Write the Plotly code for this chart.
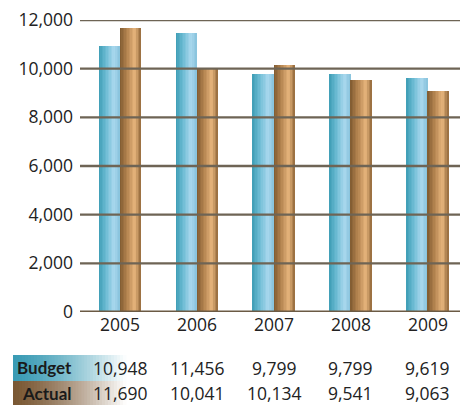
import plotly.graph_objects as go

# ---- data ----
years = ["2005", "2006", "2007", "2008", "2009"]
budget = [10948, 11456, 9799, 9799, 9619]
actual = [11690, 10041, 10134, 9541, 9063]
y_ticks = [0, 2000, 4000, 6000, 8000, 10000, 12000]

FONT = "Open Sans"
TXT = "#222222"

# plot area geometry (pixels)
W, H = 460, 405
L, R, T, B = 80, 0, 20, 93
PW, PH = W - L - R, H - T - B


def hex2rgb(h):
    h = h.lstrip("#")
    return tuple(int(h[i:i + 2], 16) for i in (0, 2, 4))


def ramp(stops, t):
    for (t0, c0), (t1, c1) in zip(stops, stops[1:]):
        if t0 <= t <= t1:
            f = (t - t0) / (t1 - t0) if t1 > t0 else 0
            a, b = hex2rgb(c0), hex2rgb(c1)
            return "rgb(%d,%d,%d)" % tuple(round(a[k] + (b[k] - a[k]) * f) for k in range(3))
    return stops[-1][1]


budget_stops = [(0, "#3d9db5"), (0.35, "#6dbcd4"), (0.72, "#aad8ee"), (1, "#86c2dc")]
actual_stops = [(0, "#7f5a30"), (0.35, "#b48450"), (0.72, "#e8b67d"), (1, "#92683b")]

fig = go.Figure()

# cylinder-shaded bars built from narrow vertical strips
BW = 0.273
N = 14
for vals, stops, base in [(budget, budget_stops, -BW), (actual, actual_stops, 0.0)]:
    sw = BW / N
    for i in range(N):
        t = (i + 0.5) / N
        fig.add_trace(go.Bar(
            x=years, y=vals, width=sw * 1.02, offset=base + i * sw,
            marker=dict(color=ramp(stops, t), line=dict(width=0)),
            showlegend=False, hoverinfo="skip",
        ))

shapes = []
# gridlines drawn over the bars
for v in y_ticks:
    if v == 0:
        shapes.append(dict(type="line", xref="paper", yref="y", x0=0, x1=1, y0=v, y1=v,
                           line=dict(color="#6b5a44", width=3), layer="above"))
    else:
        shapes.append(dict(type="line", xref="paper", yref="y", x0=0, x1=1, y0=v, y1=v,
                           line=dict(color="#6e6455", width=2.4), layer="above"))


def px_x(p):
    return (p - L) / PW


def px_y(p):
    return (T + PH - p) / PH


# fading backgrounds behind the row labels
rows = [("Budget", budget, "#3a9bb4", 355, 381, 368),
        ("Actual", actual, "#7a5834", 381, 405, 393)]
for name, vals, col, top, bot, mid in rows:
    x_start, x_end, steps = 13, 126, 38
    step = (x_end - x_start) / steps
    c0 = hex2rgb(col)
    for k in range(steps):
        t = (k + 0.5) / steps
        f = t ** 1.4
        c = tuple(round(c0[j] + (255 - c0[j]) * f) for j in range(3))
        shapes.append(dict(type="rect", xref="paper", yref="paper",
                           x0=px_x(x_start + k * step), x1=px_x(x_start + (k + 1) * step + 0.6),
                           y0=px_y(bot), y1=px_y(top),
                           fillcolor="rgb(%d,%d,%d)" % c, line=dict(width=0), layer="below"))

annotations = []
for name, vals, col, top, bot, mid in rows:
    annotations.append(dict(text=name, xref="paper", yref="paper", x=px_x(74), y=px_y(mid),
                            xanchor="right", yanchor="middle", showarrow=False,
                            font=dict(family="Lato", size=17, color="#1a1a1a", weight=700)))
    for idx, v in enumerate(vals):
        annotations.append(dict(text=f"{v:,}", xref="x", yref="paper", x=idx, y=px_y(mid),
                                xanchor="center", yanchor="middle", showarrow=False,
                                font=dict(family=FONT, size=17.5, color=TXT)))

fig.update_layout(
    width=W, height=H,
    margin=dict(l=L, r=R, t=T, b=B, pad=0),
    paper_bgcolor="white", plot_bgcolor="white",
    barmode="overlay", bargap=0,
    shapes=shapes, annotations=annotations,
    font=dict(family=FONT, size=17.5, color=TXT),
    xaxis=dict(type="category", range=[-0.52, 4.416], showgrid=False, zeroline=False,
               showline=False, ticks="", tickfont=dict(size=17.5, color=TXT)),
    yaxis=dict(range=[0, 12000], tickvals=y_ticks, tickformat=",", showgrid=False,
               zeroline=False, showline=False, ticks="", ticklabelstandoff=6,
               tickfont=dict(size=17.5, color=TXT)),
)

fig.write_html("out.html")
